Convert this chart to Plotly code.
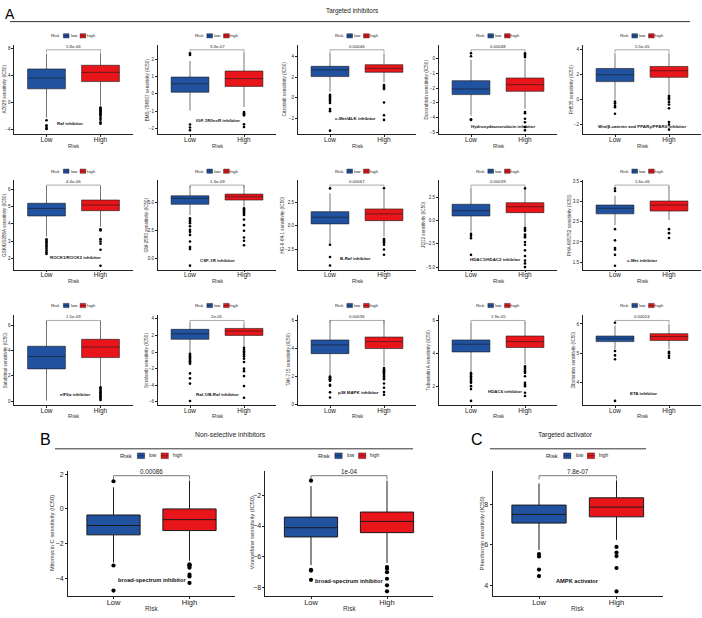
import plotly.graph_objects as go

W, H = 702, 618
FONT = "Liberation Sans, Arial, sans-serif"

# ---------------- data ----------------
categories = ["Low", "High"]
legend_title = "Risk"
legend_items = ["low", "high"]
group_titles = ["Targeted inhibitors", "Non-selective inhibitors", "Targeted activator"]
panel_letters = ["A", "B", "C"]

drug_titles = [
    "AZ628 sensitivity (IC50)", "BMS-754807 sensitivity (IC50)", "Crizotinib sensitivity (IC50)",
    "Doxorubicin sensitivity (IC50)", "FH535 sensitivity (IC50)",
    "GSK429286A sensitivity (IC50)", "GW-2580 sensitivity (IC50)", "HG-6-64-1 sensitivity (IC50)",
    "JQ12 sensitivity (IC50)", "PHA-665752 sensitivity (IC50)",
    "Salubrinal sensitivity (IC50)", "Sorafenib sensitivity (IC50)", "TAK-715 sensitivity (IC50)",
    "Tubastatin A sensitivity (IC50)", "Zibotentan sensitivity (IC50)",
    "Mitomycin C sensitivity (IC50)", "Vinorelbine sensitivity (IC50)", "Phenformin sensitivity (IC50)",
]
target_labels = [
    "Raf inhibitor", "IGF-1R/InsR inhibitor", "c-Met/ALK inhibitor", "Hydroxydaunorubicin inhibitor",
    "Wnt/β-catenin and PPARγ/PPARδ inhibitor",
    "ROCK1/ROCK2 inhibitor", "CSF-1R inhibitor", "B-Raf inhibitor", "HDAC1/HDAC2 inhibitor", "c-Met inhibitor",
    "eIF2α inhibitor", "Raf-1/B-Raf inhibitor", "p38 MAPK inhibitor", "HDAC6 inhibitor", "ETA inhibitor",
    "broad-spectrum inhibitor", "broad-spectrum inhibitor", "AMPK activator",
]
p_values = [
    "5.8e-06", "3.3e-07", "0.00046", "0.00048", "5.5e-05",
    "4.4e-06", "1.3e-09", "0.00067", "0.00039", "1.6e-06",
    "1.5e-09", "2e-05", "0.00036", "1.9e-05", "0.00024",
    "0.00086", "1e-04", "7.8e-07",
]
# [lower whisker, Q1, median, Q3, upper whisker]
low_stats = [
    [-2.3, 1.99, 3.6, 4.95, 7.2], [-0.97, 0.09, 0.58, 0.97, 1.9], [0.6, 2.07, 2.72, 3.07, 4.4],
    [-3.85, -2.44, -2.06, -1.5, -0.1], [0.0, 1.43, 1.98, 2.48, 3.7],
    [3.26, 4.46, 4.9, 5.2, 6.2], [3.9, 4.86, 5.39, 5.62, 6.5], [-1.9, 0.21, 0.92, 1.51, 3.45],
    [-1.18, 0.5, 1.07, 1.76, 3.5], [2.42, 2.7, 2.84, 2.92, 3.15],
    [0.05, 2.55, 3.52, 4.33, 6.3], [-0.08, 1.53, 2.2, 2.73, 3.5], [2.09, 3.62, 4.24, 4.59, 6.0],
    [2.83, 4.08, 4.55, 4.81, 5.85], [5.14, 5.4, 5.5, 5.59, 5.95],
    [-3.1, -1.5, -0.96, -0.35, 1.25], [-6.54, -4.71, -4.11, -3.42, -1.4], [5.75, 7.08, 7.51, 7.97, 9.04],
]
high_stats = [
    [-0.55, 3.07, 4.44, 5.5, 7.3], [-0.77, 0.43, 0.88, 1.32, 2.4], [1.5, 2.49, 2.87, 3.23, 4.35],
    [-3.4, -2.22, -1.77, -1.32, 0.0], [0.45, 1.77, 2.3, 2.64, 3.7],
    [3.84, 4.77, 5.1, 5.39, 6.2], [4.64, 5.24, 5.53, 5.77, 6.55], [-1.13, 0.56, 1.27, 1.8, 3.8],
    [-0.71, 0.86, 1.5, 1.93, 3.3], [2.55, 2.77, 2.92, 3.02, 3.38],
    [1.2, 3.44, 4.27, 4.88, 6.3], [0.64, 2.0, 2.52, 2.84, 3.45], [2.75, 3.98, 4.47, 4.8, 6.0],
    [3.33, 4.35, 4.71, 5.05, 5.9], [5.14, 5.44, 5.57, 5.67, 6.0],
    [-3.0, -1.25, -0.62, 0.0, 1.64], [-6.4, -4.43, -3.7, -3.09, -1.05], [6.25, 7.39, 7.87, 8.33, 9.19],
]
low_outliers = [
    [-2.7, -3.45, -3.7, -3.95, -4.0],
    [2.25, 2.35, -1.78, -1.95, -2.11],
    [0.3, 0.2, 0.1, 0.0, -0.15, -0.3, -0.5, -1.1, -1.3, -3.2],
    [0.15, 0.35, -4.1, -4.15],
    [-0.16, -0.3, -0.48, -0.61, -1.14],
    [3.1, 3.0, 2.95, 2.85, 2.75, 2.65, 2.55, 2.45, 2.35, 2.25],
    [3.61, 3.45, 3.3, 3.17, 2.9, 2.58, 2.4, 2.13, 1.54, 1.04, 0.86, -0.62],
    [3.98, -2.0, -3.3, -4.2],
    [-1.43, -1.64, -1.9, -3.68],
    [3.27, 3.33, 2.32, 2.04, 1.85, 1.81, 1.68, 1.41],
    [],
    [-0.2, -0.35, -0.5, -0.65, -0.8, -0.95, -1.1, -1.25, -1.4, -2.57, -3.17, -3.8, -5.9],
    [2.0, 1.95, 1.9, 1.85, 1.8, 1.75, 1.7, 1.4, 1.34, 0.87, 0.51],
    [2.79, 2.7, 2.6, 2.5, 2.4, 2.3, 2.2, 2.0, 1.82, 1.1],
    [6.04, 5.08, 4.93, 4.8, 3.38],
    [1.6, -3.27, -4.72],
    [-1.05, -6.85, -6.9, -7.5],
    [5.55, 5.43, 4.78, 4.46],
]
high_outliers = [
    [-0.8, -0.95, -1.1, -1.25, -1.4, -1.55, -1.7, -1.85, -2.0, -2.3, -2.6, -3.0, -3.2],
    [-1.06, -1.12, -1.18, -1.25, -1.77, -1.92],
    [1.25, 1.15, 1.05, 0.95, 0.85, -0.45, -1.7, -2.15],
    [0.1, 0.18, 0.26, 0.34, -3.62, -3.7, -4.07, -4.3, -4.63, -4.85],
    [0.3, 0.2, 0.1, 0.0, -0.2, -0.4, -0.7, -1.8, -2.0, -2.4],
    [3.69, 3.61, 3.11, 2.97, 2.84, 2.49, 1.56],
    [4.5, 4.4, 4.3, 4.2, 4.1, 4.0, 3.9, 3.5, 3.0, 2.5, 1.9, 1.6, 1.2],
    [4.0, -1.4, -1.5, -1.6, -1.7, -1.8, -2.0, -2.5, -3.07],
    [3.47, -0.8, -0.95, -1.1, -1.5, -1.65, -1.8, -2.3, -2.6, -3.2, -3.8, -4.3, -4.6, -5.0],
    [2.32, 2.22, 2.1],
    [1.1, 1.0, 0.9, 0.8, 0.7, 0.6, 0.5, 0.4, 0.3, 0.2, 0.1],
    [0.5, 0.3, 0.1, -0.1, -0.3, -0.5, -0.8, -1.2, -2.0, -2.3, -2.9, -4.1, -5.5],
    [2.6, 2.5, 2.45, 2.4, 2.35, 2.3, 2.2, 2.1, 2.0, 1.9, 1.8, 1.5, 1.2, 0.9, 0.7],
    [3.2, 3.1, 3.0, 2.9, 2.8, 2.6, 2.2, 2.1, 2.0, 1.6, 1.4],
    [5.05, 5.0, 4.92, 4.85],
    [-3.2, -3.25, -3.3, -3.4, -3.8, -3.9, -4.28],
    [-6.67, -6.78, -7.0, -7.43, -7.86, -8.25],
    [5.9, 5.62, 5.45, 4.86, 3.7],
]
y_ranges = [
    [-4.79, 8.55], [-2.35, 2.84], [-3.56, 5.17], [-5.12, 0.92], [-2.78, 4.37],
    [1.33, 6.55], [-0.98, 7.02], [-4.65, 4.86], [-5.28, 4.36], [1.31, 3.54],
    [-0.3, 6.76], [-6.38, 4.4], [-0.03, 6.33], [0.85, 6.3], [3.24, 6.29],
    [-5.04, 2.21], [-8.56, -0.4], [3.47, 9.67],
]
y_dticks = [4, 1, 2, 1, 2, 1, 2.5, 2.5, 2.5, 0.5, 2, 2, 2, 2, 1, 2, 2, 2]
y_formats = ["", "", "", "", "", "", ".1f", ".1f", ".1f", ".1f", "", "", "", "", "", "", "", ""]

# ---------------- layout geometry ----------------
BLUE, RED = "#2052A0", "#E8161B"
EDGE = "#1a1a1a"

small_low_centers = [46.5, 190, 330, 471, 615]
row_tops, row_bots, legend_ys = [44, 180, 316], [134, 270, 406], [35, 171, 306]
geo = []
for i in range(15):
    r, c = divmod(i, 5)
    lc, u = small_low_centers[c], 54
    geo.append(dict(l=lc - 0.6 * u, r=lc + 1.6 * u, t=row_tops[r], b=row_bots[r], leg=legend_ys[r], big=False))
for lc, u in zip([113.5, 311, 539], [76, 76, 77.5]):
    geo.append(dict(l=lc - 0.6 * u, r=lc + 1.6 * u, t=472, b=598, leg=457, big=True))

label_pos = [(70, 122.7), (218, 120), (355, 118), (503, 126), (642, 126),
             (75, 258), (217, 260.7), (355, 259), (495, 260), (642, 260.7),
             (75, 395), (217, 395), (358, 393), (505, 392.7), (643, 394.3),
             (152, 582), (349, 583), (577, 583)]
ytitle_x = [5, 147.7, 285, 427, 571.7, 5, 146.7, 282.7, 424, 570,
            5, 146.7, 288, 428.3, 573.3, 52.7, 252, 482]

SMALL = dict(xt=6.5, yt=4.5, ytl=4.6, risk=5.8, p=4.3, lab=4.4, legt=4.3, legi=4.3, ms=2.6,
             lw=0.6, aw=0.6, risk_off=11.5, leg_off=[-17.7, -7.3, 0.5, 9.4, 17.8], icon=(5.7, 4.3))
BIG = dict(xt=7.5, yt=7, ytl=5.8, risk=6.5, p=6.3, lab=5.7, legt=6.0, legi=4.8, ms=4.2,
           lw=1.0, aw=0.9, risk_off=12, leg_off=[-24.8, -10.5, 1.8, 13.2, 25.5], icon=(7.3, 5.7))


def fx(v):
    return v / W


def fy(v):
    return 1 - v / H


fig = go.Figure()
layout = dict(width=W, height=H, margin=dict(l=0, r=0, t=0, b=0), paper_bgcolor="white",
              plot_bgcolor="white", showlegend=False, boxmode="overlay",
              font=dict(family=FONT, color="black"))
annotations, shapes = [], []


def text(x, y, s, size, **kw):
    d = dict(x=fx(x), y=fy(y), xref="paper", yref="paper", text=s, showarrow=False,
             font=dict(size=size, family=FONT, color=kw.pop("color", "black")),
             xanchor="center", yanchor="middle")
    d.update(kw)
    annotations.append(d)


for i in range(18):
    g = geo[i]
    st = BIG if g["big"] else SMALL
    suf = "" if i == 0 else str(i + 1)
    xa, ya = "x" + suf, "y" + suf
    groups = [(categories[0], low_stats[i], low_outliers[i], BLUE),
              (categories[1], high_stats[i], high_outliers[i], RED)]
    for cat, s5, outs, col in groups:
        fig.add_trace(go.Box(x=[cat], lowerfence=[s5[0]], q1=[s5[1]], median=[s5[2]], q3=[s5[3]],
                             upperfence=[s5[4]], width=0.7, fillcolor=col, boxpoints=False,
                             line=dict(color=EDGE, width=st["lw"]), whiskerwidth=0,
                             xaxis=xa, yaxis=ya, hoverinfo="skip"))
        if outs:
            fig.add_trace(go.Scatter(x=[cat] * len(outs), y=outs, mode="markers",
                                     marker=dict(color="black", size=st["ms"]),
                                     xaxis=xa, yaxis=ya, hoverinfo="skip"))
    yr = y_ranges[i]
    layout["xaxis" + suf] = dict(domain=[fx(g["l"]), fx(g["r"])], anchor=ya, type="category",
                                 categoryorder="array", categoryarray=categories, range=[-0.6, 1.6],
                                 showline=True, linecolor="#222", linewidth=st["aw"], ticks="outside",
                                 ticklen=2, tickwidth=st["aw"], tickcolor="#222", ticklabelstandoff=-3,
                                 tickfont=dict(size=st["xt"], family=FONT, color="#222"),
                                 showgrid=False, zeroline=False, fixedrange=True)
    ydict = dict(domain=[fy(g["b"]), fy(g["t"])], anchor=xa, range=yr, tick0=0, dtick=y_dticks[i],
                 showline=True, linecolor="#222", linewidth=st["aw"], ticks="outside", ticklen=2,
                 tickwidth=st["aw"], tickcolor="#222",
                 tickfont=dict(size=st["yt"], family=FONT, color="#222"),
                 showgrid=False, zeroline=False, fixedrange=True)
    if y_formats[i]:
        ydict["tickformat"] = y_formats[i]
    layout["yaxis" + suf] = ydict

    # comparison bracket and p-value
    span = yr[1] - yr[0]
    frac = 5 / (g["b"] - g["t"])
    yb = yr[1] - frac * span
    tip = 0.03 * span
    bc = "#555"
    bw = 0.5 if not g["big"] else 0.8
    for (x0, y0, x1, y1) in [(0, yb, 1, yb), (0, yb, 0, yb - tip), (1, yb, 1, yb - tip)]:
        shapes.append(dict(type="line", xref=xa, yref=ya, x0=x0, y0=y0, x1=x1, y1=y1,
                           line=dict(color=bc, width=bw)))
    annotations.append(dict(x=0.5, y=yb, xref=xa, yref=ya, text=p_values[i], showarrow=False,
                            yanchor="bottom", xanchor="center", yshift=-1,
                            font=dict(size=st["p"], family=FONT, color="#222")))

    # target label
    lx, ly = label_pos[i]
    text(lx, ly, "<b>" + target_labels[i] + "</b>", st["lab"], color="#111")
    # axis titles
    text(ytitle_x[i], (g["t"] + g["b"]) / 2, drug_titles[i], st["ytl"], textangle=-90, color="#333")
    cx = (g["l"] + g["r"]) / 2
    text(cx, g["b"] + st["risk_off"], legend_title, st["risk"], color="#333")

    # legend
    off = st["leg_off"]
    iw, ih = st["icon"]
    ly0 = g["leg"]
    text(cx + off[0], ly0, legend_title, st["legt"], color="#222")
    text(cx + off[2], ly0, legend_items[0], st["legi"], color="#222")
    text(cx + off[4], ly0, legend_items[1], st["legi"], color="#222")
    for k, col in ((1, BLUE), (3, RED)):
        x0, x1 = cx + off[k] - iw / 2, cx + off[k] + iw / 2
        shapes.append(dict(type="rect", xref="paper", yref="paper", x0=fx(x0), x1=fx(x1),
                           y0=fy(ly0 + ih / 2), y1=fy(ly0 - ih / 2), fillcolor=col,
                           line=dict(color=EDGE, width=0.4)))
        shapes.append(dict(type="line", xref="paper", yref="paper", x0=fx(x0), x1=fx(x1),
                           y0=fy(ly0), y1=fy(ly0), line=dict(color=EDGE, width=0.5)))

# group headers
text(10, 13.3, panel_letters[0], 14)
text(351.5, 10, group_titles[0], 6.4, color="#222")
shapes.append(dict(type="line", xref="paper", yref="paper", x0=fx(10), x1=fx(690), y0=fy(20.7),
                   y1=fy(20.7), line=dict(color="#333", width=1)))
text(45.5, 440.7, panel_letters[1], 16)
text(230, 436, group_titles[1], 6.8, color="#222")
shapes.append(dict(type="line", xref="paper", yref="paper", x0=fx(55), x1=fx(413), y0=fy(450),
                   y1=fy(450), line=dict(color="#333", width=1)))
text(476.7, 440.7, panel_letters[2], 16)
text(565.5, 436, group_titles[2], 6.8, color="#222")
shapes.append(dict(type="line", xref="paper", yref="paper", x0=fx(490), x1=fx(646), y0=fy(450),
                   y1=fy(450), line=dict(color="#333", width=1)))

layout["annotations"] = annotations
layout["shapes"] = shapes
fig.update_layout(**layout)
fig.write_html("out.html", config={"displayModeBar": False},
               post_script="document.body.style.margin='0px';")
